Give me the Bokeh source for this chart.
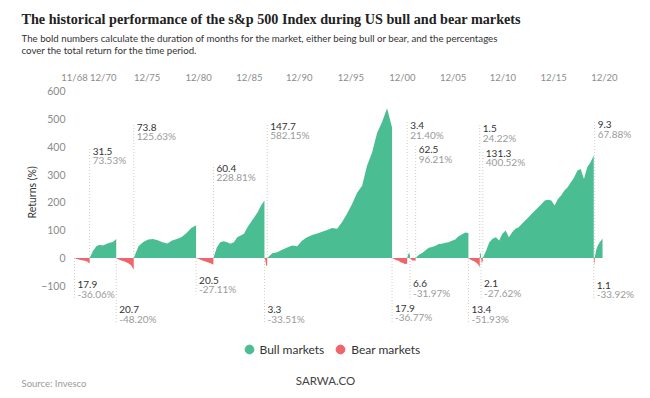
import numpy as np
from bokeh.plotting import figure
from bokeh.layouts import column
from bokeh.models import Range1d, FixedTicker, Label, Legend, LegendItem, Title
from bokeh.core.properties import value
from bokeh.embed import file_html
from bokeh.resources import INLINE

# ---------------- data ----------------
market_type = ["bear", "bull", "bear", "bull", "bear", "bull", "bear", "bull", "bear",
               "bull", "bear", "bull", "bear", "bull", "bear", "bull", "bear", "bull"]
duration_months = [17.9, 31.5, 20.7, 73.8, 20.5, 60.4, 3.3, 147.7, 17.9,
                   3.4, 6.6, 62.5, 13.4, 1.5, 2.1, 131.3, 1.1, 9.3]
duration_labels = ["17.9", "31.5", "20.7", "73.8", "20.5", "60.4", "3.3", "147.7", "17.9",
                   "3.4", "6.6", "62.5", "13.4", "1.5", "2.1", "131.3", "1.1", "9.3"]
total_return_labels = ["-36.06%", "73.53%", "-48.20%", "125.63%", "-27.11%", "228.81%",
                       "-33.51%", "582.15%", "-36.77%", "21.40%", "-31.97%", "96.21%",
                       "-51.93%", "24.22%", "-27.62%", "400.52%", "-33.92%", "67.88%"]

# cumulative return (%) within each market, sampled evenly over its duration
bear_1 = [0, -4, -6, -8, -10, -13, -20]
bull_1 = [0, 25, 42, 48, 45, 50, 55, 58, 68]
bear_2 = [0, -5, -9, -12, -15, -20, -27, -42]
bull_2 = [0, 42, 58, 67, 68, 64, 57, 52, 63, 68, 76, 90, 108, 118]
bear_3 = [0, -4, -8, -12, -15, -19, -24]
bull_3 = [0, 38, 57, 60, 57, 51, 57, 75, 81, 87, 111, 129, 147, 165, 189, 207]
bear_4 = [0, -8, -30, -25]
bull_4 = [0, 17, 21, 30, 38, 45, 42, 63, 75, 83, 88, 95, 101, 108, 105, 130, 160,
          195, 235, 260, 333, 380, 450, 490, 540, 470]
bear_5 = [0, -4, -8, -10, -15, -18, -22, -21]
bull_5 = [0, 12, 20, 8]
bear_6 = [0, -6, -10, -8, -11]
bull_6 = [0, 12, 18, 28, 37, 40, 44, 50, 51, 55, 57, 62, 67, 78, 85, 92, 90]
bear_7 = [0, -5, -9, -12, -16, -22, -33]
bull_7 = [0, 20, 15]
bear_8 = [0, -20, -10]
bull_8 = [0, 26, 57, 69, 75, 63, 87, 99, 75, 93, 105, 111, 123, 135, 147, 159, 171,
          183, 195, 207, 210, 207, 189, 213, 225, 243, 255, 273, 291, 315, 321, 285,
          327, 345, 369]
bear_9 = [0, -25, -10]
bull_9 = [0, 30, 45, 55, 62, 70]

segments = [bear_1, bull_1, bear_2, bull_2, bear_3, bull_3, bear_4, bull_4, bear_5,
            bull_5, bear_6, bull_6, bear_7, bull_7, bear_8, bull_8, bear_9, bull_9]

# top axis: month position (since 11/68) and label
x_tick_months = [0, 34, 86, 147, 207, 266, 327, 388, 448, 507, 567, 627]
x_tick_labels = ["11/68", "12/70", "12/75", "12/80", "12/85", "12/90",
                 "12/95", "12/00", "12/05", "12/10", "12/15", "12/20"]
y_ticks = [-100, 0, 100, 200, 300, 400, 500, 600]

# ---------------- layout / style ----------------
label_levels = [-97, 385, -187, 471, -81, 324, -187, 474, -181,
                477, -93, 390, -186, 466, -93, 378, -99, 480]

GREEN = "#4bbd93"
RED = "#f0646b"
FONT = "Lato"
W = 650
HEAD_H, MAIN_H, FOOT_H = 68, 262, 68


def blank_figure(h):
    f = figure(width=W, height=h, output_backend="svg", toolbar_location=None,
               x_range=Range1d(0, W), y_range=Range1d(0, h),
               x_axis_type=None, y_axis_type=None,
               min_border_left=0, min_border_right=0, min_border_top=0,
               min_border_bottom=0)
    f.outline_line_color = None
    f.xgrid.grid_line_color = None
    f.ygrid.grid_line_color = None
    f.frame_align = False
    return f


# ---------------- header ----------------
head = blank_figure(HEAD_H)


def head_label(txt, x, y, **kw):
    head.add_layout(Label(x=x, y=HEAD_H - y, text=txt, text_baseline="middle",
                          text_align="left", **kw))


head_label("The historical performance of the s&p 500 Index during US bull and bear markets",
           21, 18, text_font="Liberation Serif", text_font_style="bold",
           text_font_size="14.2px", text_color="#222222")
head_label("The bold numbers calculate the duration of months for the market, either being "
           "bull or bear, and the percentages", 21, 37, text_font=FONT,
           text_font_size="9.7px", text_color="#333333")
head_label("cover the total return for the time period.", 21, 49, text_font=FONT,
           text_font_size="9.7px", text_color="#333333")

# ---------------- main chart ----------------
FL, FR, FT = 70, 640, 22
Y0, Y1 = -261.3, 603.6
X0 = -(74 - FL) / 0.845
X1 = (FR - 74) / 0.845
p = figure(width=W, height=MAIN_H, output_backend="svg", toolbar_location=None,
           x_axis_location="above",
           x_range=Range1d(X0, X1), y_range=Range1d(Y0, Y1),
           min_border_left=FL, min_border_right=W - FR, min_border_top=FT,
           min_border_bottom=0)
p.outline_line_color = None
p.xgrid.grid_line_color = None
p.ygrid.grid_line_color = None
p.frame_align = False

xa = p.xaxis[0]
xa.ticker = FixedTicker(ticks=x_tick_months)
xa.major_label_overrides = {m: lab for m, lab in zip(x_tick_months, x_tick_labels)}
ya = p.yaxis[0]
ya.ticker = FixedTicker(ticks=y_ticks)
for ax in (xa, ya):
    ax.axis_line_color = None
    ax.major_tick_line_color = None
    ax.minor_tick_line_color = None
    ax.major_tick_out = 0
    ax.major_tick_in = 0
    ax.major_label_text_font = FONT
    ax.major_label_text_color = "#8c8c8c"
xa.major_label_text_font_size = "9.5px"
ya.major_label_text_font_size = "10.5px"
xa.major_label_standoff = 8
ya.major_label_standoff = 5

# y-axis title beside the axis, raised to sit beside the upper part of the chart
p.add_layout(Title(text="Returns (%)", align="left", offset=112, standoff=2,
                   text_font=FONT, text_font_size="10.5px", text_font_style="normal",
                   text_color="#333333"), "left")

starts = np.concatenate([[0], np.cumsum(duration_months)[:-1]])

px_per_pct = (MAIN_H - FT) / (Y1 - Y0)
line_ends = [lv + 3.5 / px_per_pct if t == "bull" else lv - 14 / px_per_pct
             for lv, t in zip(label_levels, market_type)]
p.segment(x0=starts, y0=[0] * len(starts), x1=starts, y1=line_ends,
          line_color="#cccccc", line_width=1, line_dash="1 2")

for s, d, vals, t in zip(starts, duration_months, segments, market_type):
    xs = s + np.linspace(0, d, len(vals))
    p.varea(x=xs, y1=np.zeros(len(vals)), y2=vals,
            fill_color=GREEN if t == "bull" else RED)

p.text(x=starts, y=label_levels, text=duration_labels, x_offset=3,
       text_baseline="middle", text_align="left", text_font=value(FONT),
       text_font_size="10px", text_color="#333333")
p.text(x=starts, y=label_levels, text=total_return_labels, x_offset=3, y_offset=9,
       text_baseline="middle", text_align="left", text_font=value(FONT),
       text_font_size="10px", text_color="#9a9a9a")

# ---------------- footer ----------------
foot = blank_figure(FOOT_H)
nan = np.array([np.nan])
r_bull = foot.scatter(nan, nan, marker="circle", size=9, fill_color=GREEN, line_color=GREEN)
r_bear = foot.scatter(nan, nan, marker="circle", size=9, fill_color=RED, line_color=RED)
legend = Legend(items=[LegendItem(label="Bull markets", renderers=[r_bull]),
                       LegendItem(label="Bear markets", renderers=[r_bear])],
                orientation="horizontal", location=(237.5, 38),
                glyph_width=22, glyph_height=22, label_standoff=0, spacing=5,
                padding=0, margin=0, border_line_color=None, background_fill_alpha=0,
                label_text_font=FONT, label_text_font_size="12px",
                label_text_color="#333333", label_text_baseline="middle")
foot.add_layout(legend)
foot.add_layout(Label(x=21, y=FOOT_H - 53, text="Source: Invesco", text_font=FONT,
                      text_font_size="9.5px", text_color="#9a9a9a",
                      text_align="left", text_baseline="middle"))
foot.add_layout(Label(x=325, y=FOOT_H - 50, text="SARWA.CO", text_font=FONT,
                      text_font_size="11.5px", text_color="#444444",
                      text_align="center", text_baseline="middle"))

layout = column(head, p, foot, spacing=0)
open("out.html", "w").write(file_html(layout, INLINE, "S&P 500 bull and bear markets"))
